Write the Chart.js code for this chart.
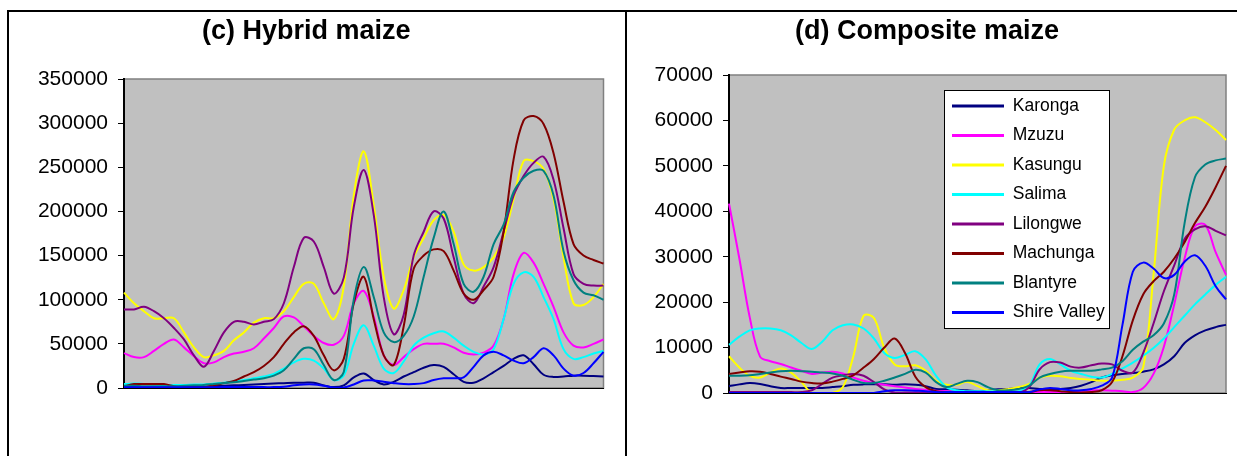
<!DOCTYPE html>
<html>
<head>
<meta charset="utf-8">
<script src="https://cdn.jsdelivr.net/npm/chart.js@4/dist/chart.umd.min.js"></script>
<style>
  body { margin: 0; background: #fff; overflow: hidden; width: 1237px; height: 456px; }
  #frame { position: absolute; left: 7px; top: 10px; width: 1250px; height: 460px; border: 2px solid #000; }
  #divider { position: absolute; left: 625px; top: 10px; width: 2px; height: 460px; background: #000; }
  .panel { position: absolute; top: 12px; }
</style>
</head>
<body>
<div id="frame"></div>
<div id="divider"></div>
<div class="panel" style="left:9px"><canvas id="hybridChart" width="616" height="444"></canvas></div>
<div class="panel" style="left:628px"><canvas id="compositeChart" width="616" height="444"></canvas></div>
<script>
// — categories —
const periods = ['1','2','3','4','5','6','7','8','9','10','11','12','13','14','15','16','17',
  '18','19','20','21','22','23','24','25','26','27','28','29','30','31','32','33','34','35',
  '36','37','38','39','40','41','42','43','44','45','46','47','48','49'];
const regions = ['Karonga', 'Mzuzu', 'Kasungu', 'Salima', 'Lilongwe', 'Machunga', 'Blantyre', 'Shire Valley'];

// — (c) hybrid maize —
const hybridKaronga = [1000,1000,1000,1000,1000,1000,1000,1500,1500,2000,
  2500,3000,3500,4000,4500,5000,5500,6000,6000,6000,
  3000,1000,3000,12000,16500,9000,4000,7000,13000,18000,
  23000,26000,24000,15500,7000,6000,11000,18000,25000,33000,
  37000,27000,15000,12500,13000,14000,14000,13500,13000];
const hybridMzuzu = [39500,35000,35000,42000,50000,55000,46000,36000,28000,29000,
  35000,39000,41000,45000,56000,68000,81000,80000,70000,59000,
  51000,49000,59000,96000,110000,81000,37000,26000,35000,44000,
  50000,50000,50000,46000,40000,38000,40000,48000,78000,129000,
  153000,142000,118000,92000,63000,48000,46000,50000,55000];
const hybridKasungu = [108000,96000,87000,79000,79000,79000,63000,46000,35000,37000,
  42000,54000,63000,74000,79000,79000,87000,103000,118000,118000,
  96000,78000,115000,218000,268000,207000,126000,90000,111000,148000,
  170000,190000,196000,177000,140000,133000,137000,148000,170000,214000,
  257000,257000,248000,214000,148000,96000,94000,103000,118000];
const hybridSalima = [4400,5000,4500,4000,3500,3500,3500,4000,4000,5000,
  6000,7500,9000,11000,13000,16000,22000,29000,33000,31000,
  22000,9000,14000,50000,71000,48000,22000,17000,30000,48000,
  57000,62000,64000,57000,48000,41000,38000,44000,78000,118000,
  131000,126000,103000,78000,44000,33000,35000,39000,42000];
const hybridLilongwe = [89000,89000,92000,87000,79000,68000,55000,37000,24000,42000,
  63000,75000,75000,72000,75000,78000,96000,137000,170000,166000,
  137000,107000,125000,205000,247000,196000,103000,61000,83000,150000,
  177000,200000,192000,148000,107000,96000,115000,137000,177000,218000,
  240000,255000,262000,236000,181000,129000,118000,116000,116000];
const hybridMachunga = [2000,4400,4400,4400,4400,2000,1000,1000,1000,3000,
  5500,8000,13000,18000,25000,35000,50000,63000,70000,59000,
  37000,20000,33000,96000,126000,78000,37000,26000,70000,135000,
  150000,157000,155000,133000,107000,100000,111000,126000,177000,259000,
  303000,308000,299000,266000,211000,163000,150000,145000,141000];
const hybridBlantyre = [2500,2500,2000,2000,2000,2000,2500,3000,3500,4500,
  5500,6500,8000,9500,11000,14000,20000,33000,45000,44000,
  26000,9000,18000,100000,137000,103000,63000,52000,59000,81000,
  126000,170000,200000,163000,118000,109000,126000,163000,185000,222000,
  238000,246000,246000,218000,155000,122000,108000,105000,100000];
const hybridShireValley = [800,800,800,800,800,800,800,800,800,800,
  1000,1000,1000,1000,1000,1000,1500,3000,4000,4000,
  2500,500,500,4000,8500,8500,7000,5500,4400,4400,
  5500,9000,11000,11000,12000,24000,37000,41000,37000,31000,
  28000,35000,45000,37000,22000,14000,17000,28000,41000];

// — (d) composite maize —
const compKaronga = [1500,1900,2200,2000,1500,1100,1100,1100,1100,1100,
  1300,1500,1800,1900,1900,1900,1800,1900,1800,1500,
  900,800,700,600,400,600,800,900,1100,1100,
  900,900,900,1100,1600,2400,3400,3900,4200,4400,
  4700,5200,6300,8100,11000,12700,13800,14500,15000];
const compMzuzu = [41700,29600,16700,8000,7000,6400,5600,4900,4200,4500,
  4700,4300,3400,2700,2200,1800,1500,1200,900,700,
  500,400,300,200,200,200,200,200,200,200,
  200,200,200,200,400,600,600,500,400,200,
  1100,4200,10200,19500,29600,36700,37000,31000,26000];
const compKasungu = [8100,5600,3800,3400,4500,5400,4500,2400,0,0,
  0,1300,8000,17000,16500,9900,6300,5900,6100,4900,
  2700,1800,1800,2500,1500,600,600,900,1300,2000,
  3400,3800,3700,3300,3100,2900,2700,2700,2900,3400,
  5600,26000,50000,58000,60000,60700,59600,57900,55700];
const compSalima = [10600,12400,13800,14200,14200,13800,12700,11000,9700,11300,
  13800,14900,15100,14200,12000,8800,7700,8400,9200,7400,
  3800,1300,600,400,400,400,400,400,400,1600,
  6300,7500,6300,4900,4200,3600,3400,4200,5400,6700,
  8200,9900,12000,14500,17000,19500,21700,23800,25600];
const compLilongwe = [200,200,200,200,200,200,200,200,600,2000,
  3400,3900,4200,3800,2400,800,100,100,100,100,
  100,100,100,100,100,100,100,100,100,1300,
  5200,6800,6700,5800,5600,6100,6500,6300,4900,4500,
  8800,15300,22400,28100,33900,36000,36700,35700,34700];
const compMachunga = [4200,4500,4800,4700,4200,3600,3100,2500,2200,2100,
  2500,3100,3900,5600,7500,10000,12000,8800,3600,1300,
  400,200,200,200,200,100,100,100,100,200,
  600,600,400,200,100,200,600,2400,8100,16000,
  21700,24600,26700,29600,33200,37400,41000,45300,50000];
const compBlantyre = [3800,3800,3900,4200,4500,4800,4900,4800,4700,4500,
  4300,3800,2900,2200,2200,2700,3400,4200,5100,4500,
  2400,1300,2000,2700,2400,1300,600,600,900,1600,
  3400,4200,4700,4900,4900,4900,5200,5600,7000,9500,
  11300,12700,15300,21700,37400,47500,50300,51200,51600];
const compShireValley = [0,0,0,0,0,0,0,0,0,0,
  0,0,0,0,0,400,600,600,500,400,
  200,200,200,200,200,200,200,200,200,200,
  800,1100,900,600,600,900,1600,3400,15000,26700,
  28700,27400,25300,26000,28900,30300,28000,23500,20600];

// — y tick range —
const hybridMax = 350000, hybridStep = 50000;
const compMax = 70000, compStep = 10000;

// — estilos —
const regionColors = ['#000080', '#FF00FF', '#FFFF00', '#00FFFF', '#800080', '#800000', '#008080', '#0000FF'];
const FONT = "'Liberation Sans', Arial, sans-serif";

function makeDatasets(series) {
  return series.map((data, i) => ({
    label: regions[i],
    data: data,
    borderColor: regionColors[i],
    backgroundColor: regionColors[i],
    borderWidth: 2,
    fill: false,
    tension: 0.35,
    pointRadius: 0,
    pointHoverRadius: 0,
    order: series.length - i   // later series drawn on top
  }));
}

// gray plot area + legend frame, drawn before axes/lines
const plotBackground = {
  id: 'plotBackground',
  beforeDraw(chart, args, opts) {
    const { ctx, chartArea: a } = chart;
    ctx.save();
    ctx.fillStyle = '#C0C0C0';
    ctx.fillRect(a.left, a.top, a.right - a.left, a.bottom - a.top);
    ctx.strokeStyle = '#808080';
    ctx.lineWidth = 1.5;
    ctx.strokeRect(a.left, a.top, a.right - a.left, a.bottom - a.top);
    if (opts.frame) {
      const f = opts.frame;
      ctx.fillStyle = '#fff';
      ctx.fillRect(a.left + f.x, a.top + f.y, f.w, f.h);
      ctx.strokeStyle = '#000';
      ctx.lineWidth = 1;
      ctx.strokeRect(a.left + f.x + 0.5, a.top + f.y + 0.5, f.w, f.h);
    }
    ctx.restore();
  }
};

// move the chartArea legend to its spot inside the plot
const legendPlacer = {
  id: 'legendPlacer',
  afterLayout(chart, args, opts) {
    const lg = chart.legend;
    if (!lg || !opts.offset) return;
    const a = chart.chartArea;
    lg.left = a.left + opts.offset.x;
    lg.top = a.top + opts.offset.y;
    lg.right = a.right;
    lg.bottom = a.bottom;
  }
};

function buildChart(canvasId, title, series, max, step, pad, legendOn) {
  const ctx = document.getElementById(canvasId).getContext('2d');
  return new Chart(ctx, {
    type: 'line',
    data: { labels: periods, datasets: makeDatasets(series) },
    plugins: [plotBackground, legendPlacer],
    options: {
      responsive: false,
      animation: false,
      events: [],
      layout: { padding: { left: 0, right: pad.right, top: 0, bottom: pad.bottom } },
      plugins: {
        title: {
          display: true,
          text: title,
          color: '#000',
          font: { family: FONT, size: 27, weight: 'bold' },
          padding: { top: 3, bottom: pad.titleGap }
        },
        legend: {
          display: legendOn,
          position: 'chartArea',
          align: 'start',
          labels: {
            color: '#000',
            font: { family: FONT, size: 17.5 },
            usePointStyle: true,
            pointStyle: 'line',
            pointStyleWidth: 52,
            padding: 12,
            sort: (a, b) => a.datasetIndex - b.datasetIndex,
            generateLabels: (chart) =>
              Chart.defaults.plugins.legend.labels.generateLabels(chart).map(l => ({ ...l, lineWidth: 3 }))
          }
        },
        tooltip: { enabled: false },
        plotBackground: { frame: legendOn ? { x: 215, y: 15, w: 165, h: 238 } : null },
        legendPlacer: { offset: legendOn ? { x: 211, y: 10.25 } : null }
      },
      scales: {
        x: {
          grid: { display: false },
          ticks: { display: false },
          border: { color: '#000', width: 1 }
        },
        y: {
          min: 0,
          max: max,
          ticks: {
            stepSize: step,
            color: '#000',
            padding: 10,
            font: { family: FONT, size: 21 },
            callback: v => String(v)
          },
          grid: { drawOnChartArea: false, tickLength: 6, color: '#000', lineWidth: 1 },
          border: { color: '#000', width: 2 },
          afterFit: s => { s.width = pad.axis; }
        }
      }
    }
  });
}

buildChart('hybridChart', '(c) Hybrid maize',
  [hybridKaronga, hybridMzuzu, hybridKasungu, hybridSalima, hybridLilongwe, hybridMachunga, hybridBlantyre, hybridShireValley],
  hybridMax, hybridStep, { right: 21.5, bottom: 60, titleGap: 31.6, axis: 115 }, false);

buildChart('compositeChart', '(d) Composite maize',
  [compKaronga, compMzuzu, compKasungu, compSalima, compLilongwe, compMachunga, compBlantyre, compShireValley],
  compMax, compStep, { right: 18, bottom: 55, titleGap: 27.6, axis: 101 }, true);
</script>
</body>
</html>
